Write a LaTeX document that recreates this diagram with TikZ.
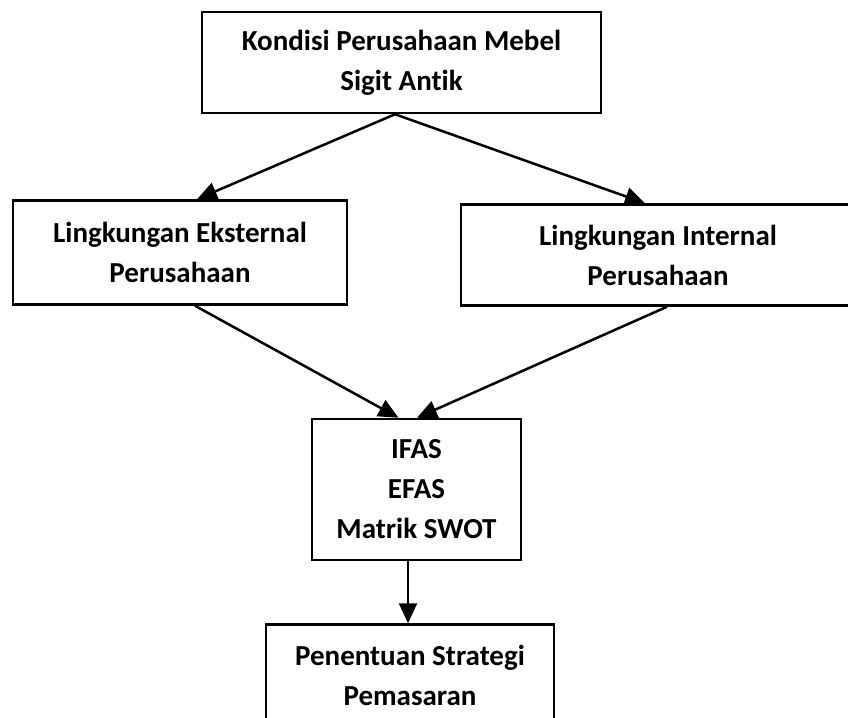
\documentclass[tikz,border=0pt]{standalone}
\usepackage{fontspec}
\setmainfont{Carlito}[Ligatures=NoCommon]
\usepackage{tikz}
\usetikzlibrary{arrows.meta,positioning}

\begin{document}
\begin{tikzpicture}
  \tikzstyle{stage}=[rectangle, draw, line width=2.5pt, inner sep=0pt, align=center,
                     font=\fontsize{29pt}{40pt}\selectfont\bfseries]
  \tikzstyle{goesto}=[-{Triangle[length=20pt,width=18pt]}, line width=2.5pt]

  % page frame (boxes on the right and bottom run off the edge)
  \clip (0pt,0pt) rectangle (848pt,-717pt);

  % company situation
  \node[stage, minimum width=399pt, minimum height=101pt] (kondisi) at (401.5pt,-62.5pt)
      {Kondisi Perusahaan Mebel\\Sigit Antik};

  % = the two environments =
  \node[stage, minimum width=334pt, minimum height=104pt, below=85pt of kondisi, xshift=-221.5pt] (eksternal)
      {Lingkungan Eksternal\\Perusahaan};
  \node[stage, minimum width=394pt, minimum height=101pt, below=89pt of kondisi, xshift=256.5pt] (internal)
      {Lingkungan Internal\\Perusahaan};

  % = analysis =
  \node[stage, minimum width=209pt, minimum height=141pt, below=112pt of eksternal, xshift=236.5pt] (swot)
      {IFAS\\EFAS\\Matrik SWOT};

  % = strategy =
  \node[stage, minimum width=288pt, minimum height=101pt, below=62pt of swot, xshift=-6.5pt] (strategi)
      {Penentuan Strategi\\Pemasaran};

  \draw[goesto] ([xshift=-6.5pt]kondisi.south) -- ([xshift=17pt]eksternal.north);
  \draw[goesto] ([xshift=-6.5pt]kondisi.south) -- ([xshift=-13pt]internal.north);
  \draw[goesto] ([xshift=15pt]eksternal.south) -- ([xshift=-18pt]swot.north);
  \draw[goesto] ([xshift=9pt]internal.south) -- ([xshift=0.5pt]swot.north);
  \draw[goesto] ([xshift=-8.5pt]swot.south) -- ([xshift=-2pt]strategi.north);
\end{tikzpicture}
\end{document}
